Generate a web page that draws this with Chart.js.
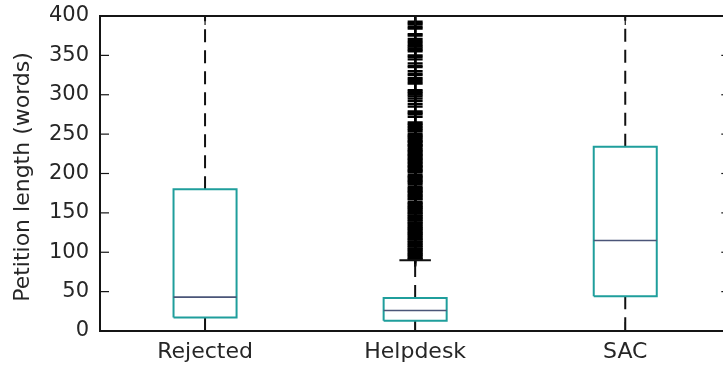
<!DOCTYPE html>
<html>
<head>
<meta charset="utf-8">
<title>Petition length by outcome</title>
<script src="https://cdn.jsdelivr.net/npm/chart.js@4/dist/chart.umd.min.js"></script>
<style>
  html, body { margin: 0; padding: 0; overflow: hidden; background: #ffffff; }
  canvas { display: block; }
</style>
</head>
<body>
<canvas id="chart" width="740" height="368"></canvas>
<script>
// Box-plot summaries of petition length (words) per outcome
const categories   = ['Rejected', 'Helpdesk', 'SAC'];
const whiskerLow   = [0, 0, 0];
const quartile1    = [17, 13, 44];
const medians      = [43, 26, 115];
const quartile3    = [180, 42, 234];
const whiskerHigh  = [420, 90, 500];
const yTicks       = [0, 50, 100, 150, 200, 250, 300, 350, 400];

// Outliers beyond the upper whisker for the Helpdesk group
const helpdeskFliers = [
  600, 530, 480, 450, 425, 410, 402, 400,
  393, 391, 389, 386, 384, 377, 375, 371, 368, 366, 363, 361, 359, 357, 355,
  350, 348, 345, 340, 337, 335, 330, 327, 325, 321, 319, 316, 314,
  306, 304, 302, 300, 298, 295, 292, 288, 285, 279, 277, 275, 272,
  265, 263, 261, 259, 257, 255, 253,
  250, 248, 247, 245, 243, 241, 240, 238, 236, 235, 233, 231, 229, 228, 226,
  224, 223, 221, 219, 218, 216, 214, 213, 211, 209, 208, 206, 204, 203, 201,
  198, 196, 195, 193, 191, 190, 188, 186, 183, 181, 180, 178, 177, 175, 173,
  172, 170, 168, 167, 164, 162, 161, 159, 158, 156, 155, 153, 152, 150, 149,
  147, 146, 144, 143, 141, 140, 138, 137, 135, 134, 132, 131, 129, 128, 126,
  125, 123, 122, 120, 119, 117, 116, 114, 113, 111, 110, 108, 107, 105, 104,
  102, 101, 99, 98, 96, 95, 93, 92, 91
];

const BOX_HALF = 0.15;   // half box width in axis units
const CAP_HALF = 0.075;  // half cap width in axis units
const FONT = 'DejaVu Sans';
const TEXT = '#262626';

const gap = x => ({ x, y: null });

const boxPts = [], medianPts = [], whiskerPts = [], capPts = [];
categories.forEach((c, i) => {
  const x = i + 1;
  boxPts.push(
    { x: x - BOX_HALF, y: quartile1[i] }, { x: x + BOX_HALF, y: quartile1[i] },
    { x: x + BOX_HALF, y: quartile3[i] }, { x: x - BOX_HALF, y: quartile3[i] },
    { x: x - BOX_HALF, y: quartile1[i] }, gap(x));
  medianPts.push({ x: x - BOX_HALF, y: medians[i] }, { x: x + BOX_HALF, y: medians[i] }, gap(x));
  whiskerPts.push({ x, y: quartile3[i] }, { x, y: whiskerHigh[i] }, gap(x),
                  { x, y: quartile1[i] }, { x, y: whiskerLow[i] }, gap(x));
  capPts.push({ x: x - CAP_HALF, y: whiskerHigh[i] }, { x: x + CAP_HALF, y: whiskerHigh[i] }, gap(x),
              { x: x - CAP_HALF, y: whiskerLow[i] }, { x: x + CAP_HALF, y: whiskerLow[i] }, gap(x));
});
const flierPts = helpdeskFliers.map(v => ({ x: categories.indexOf('Helpdesk') + 1, y: v }));

const segLine = (data, color, width, dash, order) => ({
  type: 'line', data, borderColor: color, borderWidth: width, borderDash: dash || [],
  pointRadius: 0, fill: false, spanGaps: false, tension: 0, order
});

// Frame on all four sides with inward tick marks
const framePlugin = {
  id: 'frame',
  afterDatasetsDraw(chart) {
    const { ctx, chartArea: a, scales: { x, y } } = chart;
    ctx.save();
    ctx.strokeStyle = '#151515';
    ctx.lineWidth = 2;
    ctx.strokeRect(a.left, a.top, a.right - a.left, a.bottom - a.top);
    ctx.lineWidth = 1.2;
    const L = 9;
    const seg = (x1, y1, x2, y2) => { ctx.beginPath(); ctx.moveTo(x1, y1); ctx.lineTo(x2, y2); ctx.stroke(); };
    y.ticks.forEach(t => {
      const py = y.getPixelForValue(t.value);
      seg(a.left, py, a.left + L, py);
      seg(a.right, py, a.right - L, py);
    });
    x.ticks.forEach(t => {
      const px = x.getPixelForValue(t.value);
      seg(px, a.bottom, px, a.bottom - L);
      seg(px, a.top, px, a.top + L);
    });
    ctx.restore();
  }
};

new Chart(document.getElementById('chart'), {
  type: 'line',
  data: {
    datasets: [
      segLine(medianPts, '#4a5578', 1.6, null, 1),
      segLine(boxPts, '#1f9e9c', 2, null, 2),
      segLine(capPts, '#111111', 2, null, 3),
      segLine(whiskerPts, '#111111', 2, [13, 8], 4),
      {
        type: 'line', data: flierPts, showLine: false,
        pointStyle: 'cross', pointRadius: 7.5, pointBorderWidth: 2.2,
        pointBorderColor: '#000000', pointBackgroundColor: '#000000', order: 5
      }
    ]
  },
  options: {
    responsive: false,
    devicePixelRatio: 1,
    animation: false,
    events: [],
    layout: { padding: { top: 16, right: 5.5, left: 0, bottom: 0 } },
    plugins: { legend: { display: false }, tooltip: { enabled: false } },
    scales: {
      x: {
        type: 'linear', min: 0.5, max: 3.5,
        afterBuildTicks: s => { s.ticks = categories.map((c, i) => ({ value: i + 1 })); },
        afterFit: s => { s.height = 37; s.paddingLeft = 0; s.paddingRight = 0; },
        grid: { display: false, drawTicks: false },
        border: { display: false },
        ticks: {
          padding: 8, color: TEXT, font: { family: FONT, size: 22 },
          maxRotation: 0, autoSkip: false,
          callback: v => categories[Math.round(v) - 1] || ''
        }
      },
      y: {
        type: 'linear', min: 0, max: 400,
        afterBuildTicks: s => { s.ticks = yTicks.map(v => ({ value: v })); },
        afterFit: s => { s.width = 100; s.paddingTop = 0; s.paddingBottom = 0; },
        grid: { display: false, drawTicks: false },
        border: { display: false },
        ticks: { padding: 11, color: TEXT, font: { family: FONT, size: 21 } },
        title: {
          display: true, text: 'Petition length (words) ', color: TEXT,
          font: { family: FONT, size: 22 }, padding: { top: 10, bottom: 0 }
        }
      }
    }
  },
  plugins: [framePlugin]
});
</script>
</body>
</html>
